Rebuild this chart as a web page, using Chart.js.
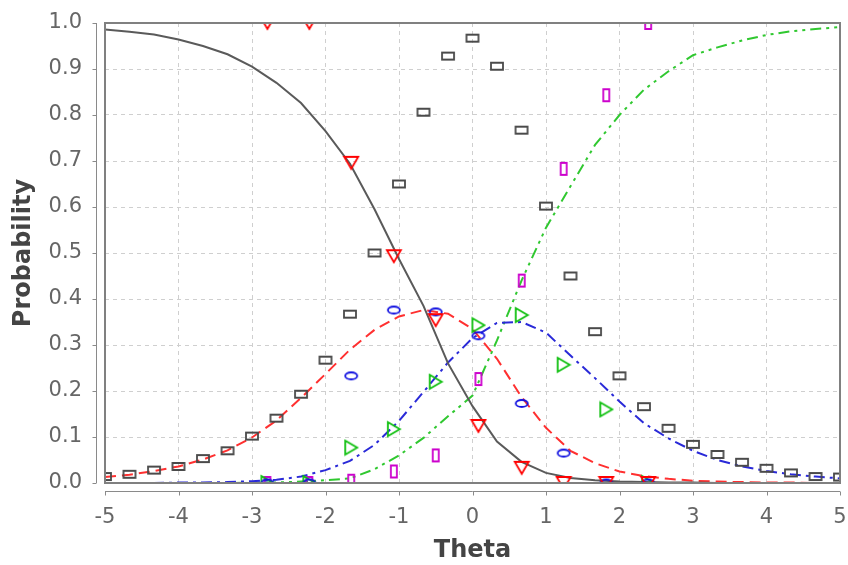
<!DOCTYPE html>
<html>
<head>
<meta charset="utf-8">
<script src="https://cdn.jsdelivr.net/npm/chart.js@4.4.0/dist/chart.umd.min.js"></script>
<style>
  html, body { margin: 0; padding: 0; background: #fff; }
</style>
</head>
<body>
<canvas id="grafico" width="848" height="565"></canvas>
<script>
// theta grid for the curves and the black rectangles
const thetaGrid = [-5, -4.667, -4.333, -4, -3.667, -3.333, -3, -2.667, -2.333, -2, -1.667,
  -1.333, -1, -0.667, -0.333, 0, 0.333, 0.667, 1, 1.333, 1.667, 2, 2.333, 2.667, 3,
  3.333, 3.667, 4, 4.333, 4.667, 5];

// model curves (category 1..4)
const curveCat1 = [0.986, 0.981, 0.975, 0.964, 0.95, 0.932, 0.905, 0.87, 0.826, 0.765, 0.694,
  0.595, 0.487, 0.385, 0.26, 0.167, 0.09, 0.046, 0.022, 0.011, 0.006, 0.003, 0.002, 0.001,
  0.001, 0, 0, 0, 0, 0, 0];
const curveCat2 = [0.013, 0.018, 0.026, 0.036, 0.051, 0.071, 0.099, 0.136, 0.185, 0.237, 0.29,
  0.333, 0.362, 0.376, 0.368, 0.335, 0.27, 0.187, 0.12, 0.07, 0.043, 0.025, 0.015, 0.009,
  0.005, 0.003, 0.002, 0.001, 0.001, 0, 0];
const curveCat3 = [0, 0, 0, 0.001, 0.001, 0.002, 0.004, 0.007, 0.014, 0.028, 0.048, 0.083,
  0.135, 0.198, 0.262, 0.315, 0.348, 0.35, 0.327, 0.277, 0.228, 0.177, 0.13, 0.097, 0.07,
  0.05, 0.036, 0.026, 0.019, 0.014, 0.01];
const curveCat4 = [0, 0, 0, 0, 0, 0, 0.001, 0.001, 0.003, 0.006, 0.01, 0.03, 0.06, 0.098,
  0.145, 0.19, 0.31, 0.44, 0.555, 0.645, 0.735, 0.8, 0.855, 0.895, 0.93, 0.947, 0.962, 0.974,
  0.982, 0.987, 0.991];

// black rectangles
const rectVals = [0.014, 0.019, 0.028, 0.036, 0.053, 0.07, 0.102, 0.141, 0.193, 0.267, 0.367,
  0.5, 0.65, 0.806, 0.928, 0.967, 0.906, 0.767, 0.602, 0.45, 0.329, 0.233, 0.166, 0.119,
  0.084, 0.062, 0.045, 0.032, 0.022, 0.014, 0.013];

// observed proportions per theta group
const groupTheta = [-2.79, -2.22, -1.65, -1.07, -0.5, 0.08, 0.67, 1.24, 1.82, 2.39];
const obsCat1 = [1, 1, 0.696, 0.493, 0.354, 0.124, 0.033, 0, 0, 0];
const obsCat2 = [0, 0, 0.233, 0.376, 0.372, 0.32, 0.173, 0.065, 0, 0];
const obsCat3 = [0, 0, 0.077, 0.117, 0.22, 0.343, 0.365, 0.257, 0.16, 0];
const obsCat4 = [0, 0, 0.005, 0.025, 0.06, 0.226, 0.44, 0.683, 0.843, 1];

function pares(xs, ys) {
  return xs.map((x, i) => ({ x: x, y: ys[i] }));
}

// small canvases used as point styles
function marcador(forma, cor, w, h) {
  const c = document.createElement("canvas");
  c.width = w + 4;
  c.height = h + 4;
  const g = c.getContext("2d");
  g.strokeStyle = cor;
  g.lineWidth = 1.8;
  g.beginPath();
  if (forma === "rect") {
    g.rect(2, 2, w, h);
  } else if (forma === "elipse") {
    g.ellipse(2 + w / 2, 2 + h / 2, w / 2, h / 2, 0, 0, Math.PI * 2);
  } else if (forma === "trianguloBaixo") {
    g.moveTo(2, 2); g.lineTo(2 + w, 2); g.lineTo(2 + w / 2, 2 + h); g.closePath();
  } else if (forma === "trianguloDir") {
    g.moveTo(2, 2); g.lineTo(2 + w, 2 + h / 2); g.lineTo(2, 2 + h); g.closePath();
  }
  g.stroke();
  return c;
}

const mkRect = marcador("rect", "#4a4a4a", 12, 7);
const mkTri = marcador("trianguloBaixo", "#ff0000", 14, 12);
const mkElip = marcador("elipse", "#1010e0", 12, 7);
const mkTriDir = marcador("trianguloDir", "#10c010", 12, 14);
const mkMag = marcador("rect", "#cc00cc", 6, 12);

function pontos(dados, estilo) {
  return {
    data: dados, showLine: false, pointStyle: estilo, pointRadius: 7,
    pointHoverRadius: 7, clip: 0
  };
}

function curva(dados, cor, dash, largura) {
  return {
    data: dados, showLine: true, borderColor: cor, borderWidth: largura,
    borderDash: dash, pointRadius: 0, tension: 0, clip: 0, fill: false
  };
}

const eixos = {
  id: "eixos",
  afterDatasetsDraw(chart) {
    const { ctx, chartArea: a, scales } = chart;
    ctx.save();
    ctx.strokeStyle = "#808080";
    ctx.lineWidth = 2;
    ctx.strokeRect(a.left, a.top, a.right - a.left, a.bottom - a.top);
    ctx.lineWidth = 1;
    ctx.strokeStyle = "#8a8a8a";
    const ax = a.left - 8.5;
    const ay = a.bottom + 8.5;
    ctx.beginPath();
    ctx.moveTo(ax, a.top); ctx.lineTo(ax, a.bottom);
    scales.y.ticks.forEach(t => {
      const py = Math.round(scales.y.getPixelForValue(t.value)) + 0.5;
      ctx.moveTo(ax - 4, py); ctx.lineTo(ax, py);
    });
    ctx.moveTo(a.left, ay); ctx.lineTo(a.right, ay);
    scales.x.ticks.forEach(t => {
      const px = Math.round(scales.x.getPixelForValue(t.value)) + 0.5;
      ctx.moveTo(px, ay); ctx.lineTo(px, ay + 4);
    });
    ctx.stroke();
    ctx.restore();
  }
};

const ctx = document.getElementById("grafico").getContext("2d");

const myChart = new Chart(ctx, {
  type: "scatter",
  data: {
    datasets: [
      pontos(pares(groupTheta, obsCat1), mkTri),
      pontos(pares(groupTheta, obsCat2), mkElip),
      pontos(pares(groupTheta, obsCat3), mkTriDir),
      pontos(pares(groupTheta, obsCat4), mkMag),
      pontos(pares(thetaGrid, rectVals), mkRect),
      curva(pares(thetaGrid, curveCat1), "#5a5a5a", [], 2),
      curva(pares(thetaGrid, curveCat2), "#ff3030", [11, 6], 2),
      curva(pares(thetaGrid, curveCat3), "#2a2ad8", [11, 5, 3, 5], 2),
      curva(pares(thetaGrid, curveCat4), "#30c830", [11, 5, 3, 5, 3, 5], 2),
    ],
  },
  options: {
    responsive: false,
    animation: false,
    devicePixelRatio: 1,
    events: [],
    layout: { padding: { top: 23, right: 8, left: 0, bottom: 0 } },
    plugins: {
      legend: { display: false },
      tooltip: { enabled: false },
    },
    scales: {
      x: {
        type: "linear",
        min: -5,
        max: 5,
        afterFit: function (scale) {
          scale.height = 82;
          scale.paddingLeft = 0;
          scale.paddingRight = 0;
        },
        ticks: {
          stepSize: 1,
          padding: 22,
          color: "#666666",
          font: { family: "DejaVu Sans", size: 21 },
        },
        grid: { color: "#cfcfcf", drawTicks: false, lineWidth: 1 },
        border: { display: false, dash: [4, 4] },
        title: {
          display: true,
          text: "Theta",
          color: "#444444",
          font: { family: "DejaVu Sans", size: 24, weight: "bold" },
          padding: { top: 0, bottom: 0 },
        },
      },
      y: {
        min: 0,
        max: 1,
        afterFit: function (scale) {
          scale.width = 105;
          scale.paddingTop = 0;
          scale.paddingBottom = 0;
        },
        ticks: {
          stepSize: 0.1,
          padding: 23,
          color: "#666666",
          font: { family: "DejaVu Sans", size: 21 },
          callback: function (value) { return value.toFixed(1); },
        },
        grid: { color: "#cfcfcf", drawTicks: false, lineWidth: 1 },
        border: { display: false, dash: [4, 4] },
        title: {
          display: true,
          text: "Probability",
          color: "#444444",
          font: { family: "DejaVu Sans", size: 24, weight: "bold" },
          padding: { top: 9, bottom: 0 },
        },
      },
    },
  },
  plugins: [eixos],
});
</script>
</body>
</html>
